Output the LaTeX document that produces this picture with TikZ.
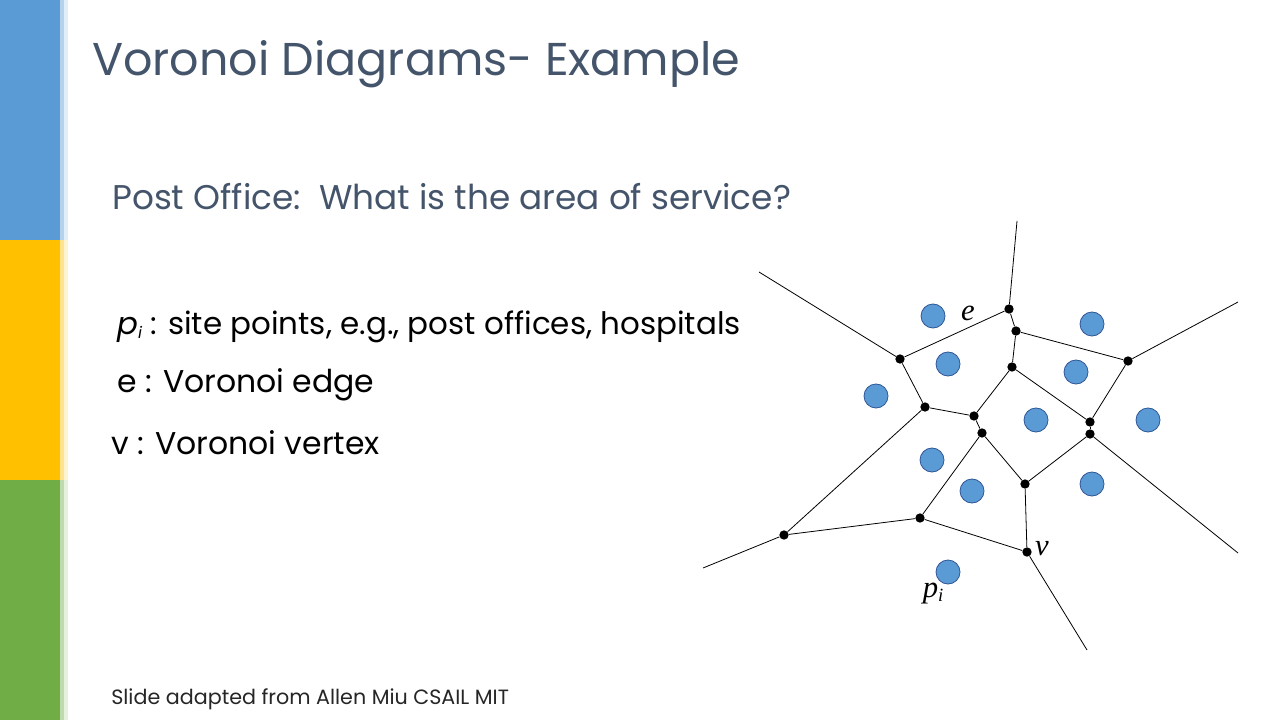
\documentclass[tikz,border=0pt]{standalone}
\usepackage{fontspec}
\setmainfont{Poppins}
\newfontfamily\serifit{Liberation Serif}
\definecolor{titleblue}{HTML}{44546A}
\definecolor{barblue}{HTML}{5B9BD5}
\definecolor{baryellow}{HTML}{FFC000}
\definecolor{bargreen}{HTML}{70AD47}
\definecolor{sitefill}{HTML}{5B9BD5}
\definecolor{siteline}{HTML}{2F5597}
\begin{document}
\begin{tikzpicture}[x=0.75pt,y=-0.75pt,
    vtx/.style={circle,fill=black,inner sep=0pt,minimum size=7pt},
    site/.style={circle,fill=sitefill,draw=siteline,line width=0.6pt,inner sep=0pt,minimum size=18pt},
    lbl/.style={font=\serifit\itshape\fontsize{23}{23}\selectfont,inner sep=0pt}]

    \useasboundingbox (0,0) rectangle (1280,720);
    \fill[white] (0,0) rectangle (1280,720);

    % side bar
    \foreach \c/\y in {barblue/0,baryellow/240,bargreen/480}
    {
        \fill[\c] (0,\y) rectangle (60,\y+240);
        \fill[\c!45] (60,\y) rectangle (64,\y+240);
        \fill[\c!18] (64,\y) rectangle (68,\y+240);
    }

    % texts
    \node[anchor=base west,inner sep=0pt,text=titleblue,font=\fontsize{34.5}{34.5}\selectfont] (title) at (92,76) {Voronoi Diagrams- Example};
    \node[anchor=base west,inner sep=0pt,text=titleblue,font=\fontsize{25.7}{25.7}\selectfont] (sub) at (112,210) {Post Office:\ \ What is the area of service?};
    \node[anchor=base west,inner sep=0pt,font=\fontsize{23.2}{23.2}\selectfont] (sites) at (117,334) {\textit{p}{\fontsize{12}{12}\selectfont\raisebox{-3pt}{\textit{i}}} : site points, e.g., post offices, hospitals};
    \node[anchor=base west,inner sep=0pt,font=\fontsize{23.6}{23.6}\selectfont] (edges) at (117,392) {e : Voronoi edge};
    \node[anchor=base west,inner sep=0pt,font=\fontsize{23.6}{23.6}\selectfont] (verts) at (111,454) {v : Voronoi vertex};
    \node[anchor=base west,inner sep=0pt,text=black!85,font=\fontsize{15.5}{15.5}\selectfont] (credit) at (111,704) {Slide adapted from Allen Miu CSAIL MIT};

    % sites
    \foreach \x/\y [count=\i] in {933/316,1092/324,948/364,1076/372,876/396,1036/420,1148/420,932/460,972/491,1092/484,948/572}
    {
        \node[site] (s\i) at (\x,\y) {};
    }

    % vertices
    \node[vtx] (A) at (1009,309) {};
    \node[vtx] (B) at (1016,331) {};
    \node[vtx] (C) at (900,359) {};
    \node[vtx] (D) at (1128,361) {};
    \node[vtx] (E) at (1012,367) {};
    \node[vtx] (F) at (925,407) {};
    \node[vtx] (G) at (974,416) {};
    \node[vtx] (H) at (1090,422) {};
    \node[vtx] (I) at (982,433) {};
    \node[vtx] (J) at (1090,434) {};
    \node[vtx] (K) at (1025,484) {};
    \node[vtx] (L) at (920,518) {};
    \node[vtx] (M) at (784,535) {};
    \node[vtx] (N) at (1027,552) {};

    % rays
    \coordinate (r1) at (1017,221);
    \coordinate (r2) at (759,272);
    \coordinate (r3) at (1238,302);
    \coordinate (r4) at (1238,553);
    \coordinate (r5) at (703,568);
    \coordinate (r6) at (1087,650);

    % edges
    \foreach \a/\b in {A/r1,A/C,A/B,B/D,B/E,C/r2,C/F,D/r3,D/H,E/G,E/H,F/G,F/M,G/I,H/J,I/L,I/K,J/K,J/r4,K/N,L/M,L/N,M/r5,N/r6}
    {
        \draw[line width=0.6pt] (\a) -- (\b);
    }

    % labels
    \node[lbl] (elbl) at (968,313) {e};
    \node[lbl] (vlbl) at (1042,549) {v};
    \node[lbl] (plbl) at (933,594) {p\raisebox{-3pt}{\fontsize{14}{14}\selectfont i}};
\end{tikzpicture}
\end{document}
